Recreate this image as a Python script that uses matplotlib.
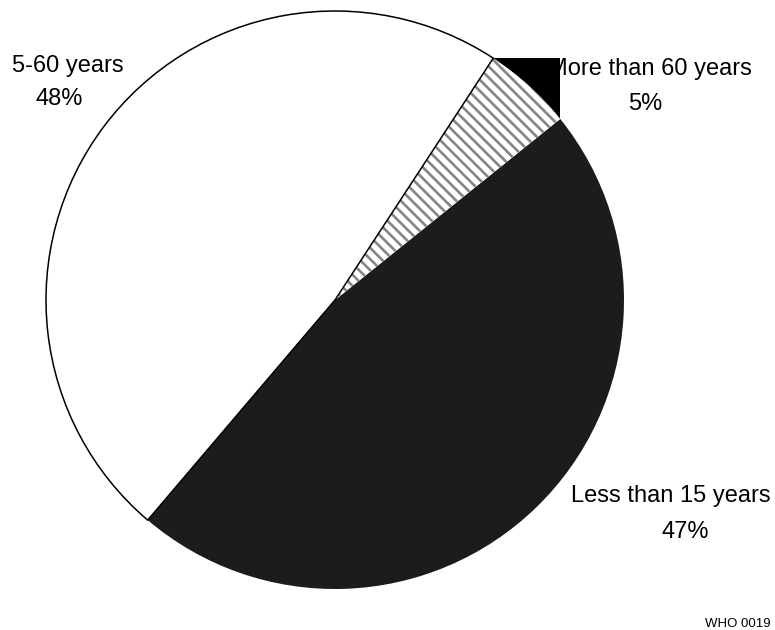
import matplotlib
matplotlib.use('Agg')
import matplotlib.pyplot as plt
from matplotlib.patches import Rectangle
import numpy as np

plt.rcParams['font.family'] = ['Liberation Sans', 'DejaVu Sans']
plt.rcParams['hatch.color'] = '#858585'
plt.rcParams['hatch.linewidth'] = 1.9

# data
groups = ['Less than 15 years', 'More than 60 years', '5-60 years']
shares = [47, 5, 48]
pct_labels = ['47%', '5%', '48%']

# label positions (data units, pie radius = 1)
name_pos = [(0.817, -0.699), (0.737, 0.779), (-1.118, 0.789)]
pct_pos = [(1.131, -0.824), (1.014, 0.657), (-1.035, 0.675)]

fig = plt.figure(figsize=(7.75, 6.3), dpi=100)
ax = fig.add_axes([46 / 775, 41 / 630, 578 / 775, 578 / 630])

wedges, _ = ax.pie(shares, startangle=229.6, counterclock=True, radius=1)

# black slice
wedges[0].set_facecolor('#1c1c1c')
wedges[0].set_edgecolor('none')
# hatched slice
wedges[1].set_facecolor('white')
wedges[1].set_hatch('\\\\\\')
# white slice with outline
wedges[2].set_facecolor('white')
wedges[2].set_edgecolor('black')
wedges[2].set_linewidth(1.1)

for w in wedges:
    w.set_zorder(3)

# black box behind the outer arc of the small slice
w = wedges[1]
t1, t2 = np.radians(w.theta1), np.radians(w.theta2)
x0, x1 = np.cos(t2), np.cos(t1)
y0, y1 = np.sin(t1), np.sin(t2)
ax.add_patch(Rectangle((x0, y0), x1 - x0, y1 - y0, facecolor='black',
                       edgecolor='none', zorder=2.5))

for name, pct, (nx, ny), (px, py) in zip(groups, pct_labels, name_pos, pct_pos):
    ax.text(nx, ny, name, fontsize=17, ha='left', va='baseline', zorder=2,
            clip_on=False)
    ax.text(px, py, pct, fontsize=17, ha='left', va='baseline', zorder=2,
            clip_on=False)

ax.set_xlim(-1, 1)
ax.set_ylim(-1, 1)
ax.set_aspect('equal')
ax.axis('off')

fig.text(771 / 775, 1 - 627 / 630, 'WHO 0019', fontsize=9.5, ha='right',
         va='baseline')

fig.savefig('out.png', dpi=100)
